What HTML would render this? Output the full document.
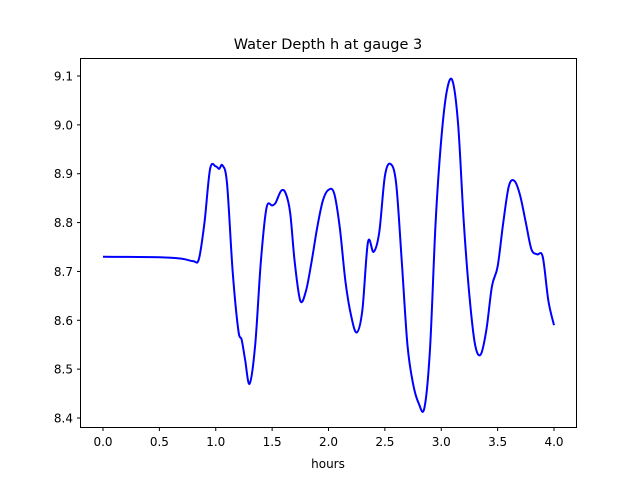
<!DOCTYPE html>
<html><head><meta charset="utf-8"><style>
body{margin:0;background:#fff;}
svg{display:block;font-family:"DejaVu Sans","Liberation Sans",sans-serif;}
</style></head><body>
<svg id="chart" width="640" height="480">
<rect width="640" height="480" fill="#fff"/>
<text x="328" y="49" text-anchor="middle" font-size="14.5">Water Depth h at gauge 3</text>
<text x="328" y="468" text-anchor="middle" font-size="12">hours</text>
<g id="xticks"></g>
<g id="yticks"></g>
<path id="line" fill="none" stroke="#0000ff" stroke-width="2"/>
<rect x="80.5" y="58.5" width="496" height="369" fill="none" stroke="#000" stroke-width="1"/>
</svg>
<script>
const xTicks=[0,0.5,1,1.5,2,2.5,3,3.5,4];
const xTickLabels=["0.0","0.5","1.0","1.5","2.0","2.5","3.0","3.5","4.0"];
const yTicks=[8.4,8.5,8.6,8.7,8.8,8.9,9.0,9.1];
const yTickLabels=["8.4","8.5","8.6","8.7","8.8","8.9","9.0","9.1"];
const hours=[0,0.5,0.7,0.8,0.85,0.9,0.95,1.0,1.03,1.06,1.1,1.15,1.2,1.23,1.26,1.3,1.35,1.4,1.45,1.5,1.53,1.58,1.62,1.66,1.7,1.75,1.8,1.85,1.9,1.95,2.0,2.05,2.1,2.15,2.2,2.25,2.3,2.35,2.4,2.45,2.5,2.55,2.6,2.65,2.7,2.75,2.8,2.85,2.9,2.95,3.0,3.05,3.1,3.15,3.2,3.25,3.3,3.35,3.4,3.45,3.5,3.55,3.6,3.65,3.7,3.75,3.8,3.85,3.9,3.95,4.0];
const depth=[8.73,8.729,8.726,8.721,8.725,8.8,8.91,8.915,8.91,8.917,8.88,8.7,8.58,8.56,8.52,8.47,8.55,8.72,8.83,8.835,8.84,8.865,8.86,8.82,8.72,8.64,8.66,8.72,8.79,8.845,8.867,8.86,8.79,8.68,8.61,8.575,8.62,8.76,8.74,8.78,8.895,8.92,8.88,8.72,8.55,8.47,8.43,8.42,8.54,8.8,8.97,9.07,9.09,9.0,8.8,8.65,8.55,8.53,8.58,8.67,8.71,8.8,8.875,8.885,8.855,8.8,8.745,8.735,8.73,8.64,8.59];
const X=v=>103+v*112.75;
const Y=v=>418-(v-8.4)/0.1*48.857;
const ns="http://www.w3.org/2000/svg";
const xg=document.getElementById('xticks'),yg=document.getElementById('yticks');
xTicks.forEach((t,i)=>{
 const l=document.createElementNS(ns,'line');
 l.setAttribute('x1',X(t));l.setAttribute('x2',X(t));l.setAttribute('y1',427.5);l.setAttribute('y2',431);l.setAttribute('stroke','#000');
 
 
 xg.appendChild(l);
 const s=document.createElementNS(ns,'text');
 s.setAttribute('x',X(t));s.setAttribute('y',446);s.setAttribute('text-anchor','middle');s.setAttribute('font-size','12');
 s.textContent=xTickLabels[i];
 
 
 xg.appendChild(s);
});
yTicks.forEach((t,i)=>{
 const l=document.createElementNS(ns,'line');
 l.setAttribute('x1',77);l.setAttribute('x2',80.5);l.setAttribute('y1',Y(t));l.setAttribute('y2',Y(t));l.setAttribute('stroke','#000');
 
 
 yg.appendChild(l);
 const s=document.createElementNS(ns,'text');
 s.setAttribute('x',73);s.setAttribute('y',Y(t)+4.5);s.setAttribute('text-anchor','end');s.setAttribute('font-size','12');
 s.textContent=yTickLabels[i];
 
 
 yg.appendChild(s);
});
const p=hours.map((h,i)=>[X(h),Y(depth[i])]);
let d='M'+p[0][0]+','+p[0][1];
for(let i=0;i<p.length-1;i++){
 const p0=p[Math.max(i-1,0)],p1=p[i],p2=p[i+1],p3=p[Math.min(i+2,p.length-1)];
 const c1=[p1[0]+(p2[0]-p0[0])/6,p1[1]+(p2[1]-p0[1])/6];
 const c2=[p2[0]-(p3[0]-p1[0])/6,p2[1]-(p3[1]-p1[1])/6];
 d+=' C'+c1+' '+c2+' '+p2;
}
document.getElementById('line').setAttribute('d',d);
</script>
</body></html>
